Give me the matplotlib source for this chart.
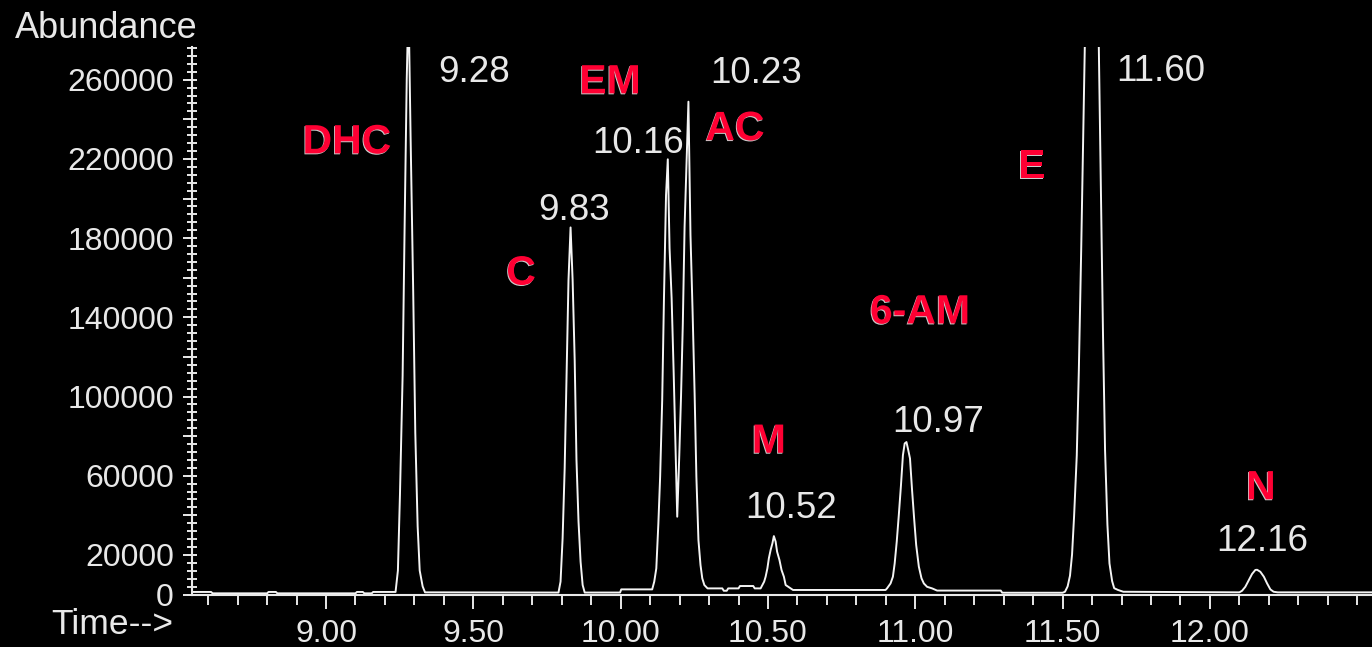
import numpy as np
import matplotlib
matplotlib.use("Agg")
from matplotlib import pyplot as plt
from matplotlib import patheffects as pe
from matplotlib.ticker import MultipleLocator, FixedLocator, FuncFormatter

plt.rcParams['font.family'] = ['Liberation Sans', 'DejaVu Sans']

# retention times of the labelled peaks (min)
rt_labels = [9.28, 9.83, 10.16, 10.23, 10.52, 10.97, 11.60, 12.16]
compounds = ["DHC", "C", "EM", "AC", "M", "6-AM", "E", "N"]

# sampled trace, piece by piece (time in min, abundance in counts)
base_t = [8.545, 8.61, 8.615, 8.80, 8.805, 8.83, 8.835, 9.10, 9.105, 9.125, 9.13, 9.155, 9.16, 9.236]
base_a = [1300, 1300, 600, 600, 1300, 1300, 600, 600, 1300, 1300, 600, 600, 1300, 1300]

dhc_t = [9.244, 9.251, 9.260, 9.267, 9.274, 9.280, 9.287, 9.296, 9.303, 9.311, 9.318, 9.328, 9.336]
dhc_a = [12100, 50500, 110400, 188100, 260400, 300000, 231800, 152300, 81800, 34500, 12100, 4100, 1100]

c_t = [9.789, 9.796, 9.803, 9.810, 9.816, 9.823, 9.830, 9.837, 9.844, 9.850, 9.857, 9.864, 9.871, 9.878]
c_a = [1000, 6500, 28400, 63700, 107500, 158800, 185400, 158800, 118400, 68300, 36800, 16600, 4800, 1000]

em_ac_t = [9.998, 10.002, 10.107, 10.114, 10.121, 10.128, 10.134, 10.141, 10.147, 10.154, 10.160,
           10.166, 10.173, 10.180, 10.186, 10.192, 10.199, 10.205, 10.211, 10.217, 10.224, 10.230,
           10.237, 10.244, 10.251, 10.257, 10.264, 10.271, 10.277, 10.284, 10.295]
em_ac_a = [1000, 2600, 2600, 6500, 13200, 35900, 59500, 98200, 149600, 201700, 219800,
           174800, 149600, 111700, 74700, 39300, 70400, 100700, 137000, 185800, 219400, 248900,
           181500, 143700, 101600, 59500, 27500, 14900, 8200, 4800, 3100]

m_t = [10.330, 10.345, 10.350, 10.360, 10.365, 10.400, 10.405, 10.450, 10.455, 10.475, 10.481,
       10.487, 10.492, 10.498, 10.503, 10.509, 10.515, 10.520, 10.526, 10.531, 10.539, 10.546,
       10.554, 10.560, 10.569, 10.577, 10.585]
m_a = [3100, 3100, 1900, 1900, 3100, 3100, 4300, 4300, 3100, 3100, 4800,
       6500, 9000, 13200, 18300, 22500, 25800, 29500, 26700, 21600, 17400, 12400,
       9000, 4800, 3900, 3100, 2300]

am_t = [10.899, 10.904, 10.916, 10.924, 10.930, 10.937, 10.944, 10.951, 10.958, 10.964, 10.970,
        10.976, 10.982, 10.989, 10.996, 11.003, 11.012, 11.021, 11.029, 11.040, 11.057, 11.074,
        11.290, 11.295]
am_a = [2300, 3100, 5600, 9000, 15700, 26700, 40100, 54400, 70400, 76300, 77000,
        73000, 68700, 52800, 38400, 25000, 14100, 8200, 5600, 3900, 3100, 2000,
        2000, 900]

e_t = [11.500, 11.508, 11.517, 11.525, 11.532, 11.539, 11.548, 11.555, 11.563, 11.571,
       11.578, 11.586, 11.593, 11.600, 11.607, 11.615, 11.622,
       11.629, 11.637, 11.644, 11.652, 11.659, 11.668, 11.675, 11.688, 11.706]
e_a = [900, 1400, 4100, 9500, 20200, 39800, 70200, 113100, 173800, 242500,
       300000, 345000, 375000, 390000, 375000, 340000, 285000,
       214900, 131800, 72900, 35400, 15700, 6800, 3200, 2300, 1400]

n_t = [12.100, 12.109, 12.120, 12.132, 12.143, 12.154, 12.160, 12.171, 12.183, 12.194, 12.205, 12.216, 12.230, 12.550]
n_a = [1100, 1900, 3900, 7300, 10400, 12400, 12500, 11500, 9000, 5600, 2600, 1400, 1100, 1100]

time = np.concatenate([base_t, dhc_t, c_t, em_ac_t, m_t, am_t, e_t, n_t])
abund = np.concatenate([base_a, dhc_a, c_a, em_ac_a, m_a, am_a, e_a, n_a])

fg = '#e8e8e8'
red = '#ff0033'

fig = plt.figure(figsize=(13.72, 6.47), dpi=100, facecolor='black')
ax = fig.add_axes([0.1399, 0.0811, 0.8601, 0.8462], facecolor='black')
ax.plot(time, abund, color='#f4f4f4', lw=1.4)
ax.set_xlim(8.545, 12.55)
ax.set_ylim(0, 276500)

for s in ['top', 'right']:
    ax.spines[s].set_visible(False)
for s in ['left', 'bottom']:
    ax.spines[s].set_color(fg)
    ax.spines[s].set_linewidth(1.5)

# x axis: labelled every 0.5 min, small ticks every 0.1
ax.xaxis.set_major_locator(FixedLocator(np.arange(9.0, 12.01, 0.5)))
ax.xaxis.set_minor_locator(MultipleLocator(0.1))
ax.xaxis.set_major_formatter(FuncFormatter(lambda v, p: f"{v:.2f}"))
ax.tick_params(axis='x', which='major', direction='out', length=10, width=1.4,
               color=fg, labelcolor=fg, labelsize=23, pad=7.5)
ax.tick_params(axis='x', which='minor', direction='out', length=7, width=1.4, color=fg)

# y axis: long ticks every 20000, crossing ticks every 4000
ax.yaxis.remove_overlapping_locs = False
ax.yaxis.set_major_locator(MultipleLocator(20000))
ax.yaxis.set_minor_locator(MultipleLocator(4000))
ax.yaxis.set_major_formatter(FuncFormatter(
    lambda v, p: f"{v:.0f}" if v == 0 or (v - 20000) % 40000 == 0 else ""))
ax.tick_params(axis='y', which='major', direction='out', length=6.5, width=1.4,
               color=fg, labelcolor=fg, labelsize=23, pad=6.5)
ax.tick_params(axis='y', which='minor', direction='inout', length=7.2, width=1.4, color=fg)

fig.text(0.0109, 0.9408, "Abundance", ha='left', va='baseline', fontsize=26, color=fg)
fig.text(0.0377, 0.0200, "Time-->", ha='left', va='baseline', fontsize=25.5, color=fg)

# retention time labels next to each peak: (dx from apex, baseline height)
rt_pos = [(0.222, 258800), (0.012, 189000), (-0.101, 223000), (0.229, 258300),
          (0.058, 38900), (0.107, 82000), (0.234, 259300), (0.016, 21800)]
for rt, (dx, y) in zip(rt_labels, rt_pos):
    ax.text(rt + dx, y, f"{rt:.2f}", ha='center', va='baseline', fontsize=26.5, color=fg)

# compound names
name_pos = [(9.071, 222800), (9.662, 156500), (9.964, 253100), (10.388, 229500),
            (10.503, 71600), (11.016, 136900), (11.396, 210200), (12.173, 48100)]
shadow = [pe.withSimplePatchShadow(offset=(-0.6, -0.7), shadow_rgbFace='white', alpha=0.8)]
for name, (x, y) in zip(compounds, name_pos):
    ax.text(x, y, name, ha='center', va='baseline', fontsize=29.5, fontweight='bold',
            color=red, path_effects=shadow)

fig.savefig("out.png", dpi=100, facecolor='black')
